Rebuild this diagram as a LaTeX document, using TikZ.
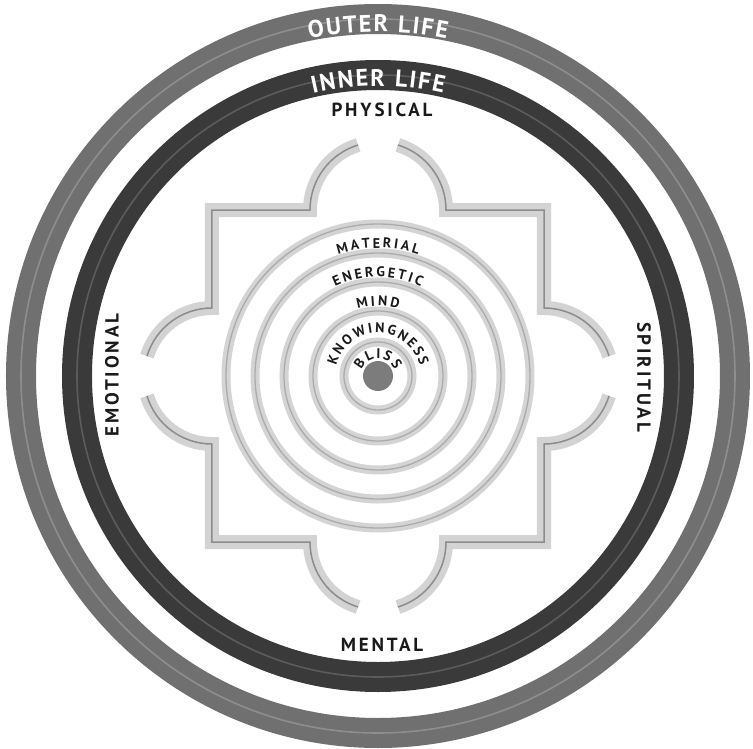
\documentclass[tikz,border=0pt]{standalone}
\usepackage{fontspec}
\usetikzlibrary{decorations.text}
\newfontfamily\plainfam{PT Sans}
\newfontfamily\sidefam[LetterSpace=15.0]{PT Sans}
\newcommand\fRing{\plainfam\bfseries\fontsize{24}{24}\selectfont}
\newcommand\fSide{\sidefam\bfseries\fontsize{19}{19}\selectfont}
\newcommand\fIn{\plainfam\bfseries\fontsize{14}{14}\selectfont}
\definecolor{outerC}{HTML}{707070}
\definecolor{outerS}{HTML}{8E8E8E}
\definecolor{innerC}{HTML}{3A3A3A}
\definecolor{innerS}{HTML}{5C5C5C}
\definecolor{bandC}{HTML}{D3D3D3}
\definecolor{lineC}{HTML}{8C8C8C}
\definecolor{ringC}{HTML}{D4D4D4}
\definecolor{ringL}{HTML}{ABABAB}
\definecolor{dotC}{HTML}{7C7C7C}
\definecolor{txtC}{HTML}{1A1A1A}
\tikzset{
  bigring/.style={draw=#1, line width=30pt},
  stripe/.style={draw=#1, line width=1.6pt},
  gateband/.style={draw=bandC, line width=14pt, line join=miter},
  gateline/.style={draw=lineC, line width=1.5pt, line join=miter},
  ringband/.style={draw=ringC, line width=9pt},
  ringline/.style={draw=ringL, line width=1.3pt},
  sidelabel/.style={text=txtC, font=\fSide, inner sep=0pt},
  curvetxt/.style n args={4}{decorate, decoration={text effects along path,
    text={#4}, text align=center,
    text effects/.cd, text along path,
    characters={text=#1, font=#3, anchor=base, inner xsep=#2, inner ysep=0pt},
    character widths={font=#3, inner xsep=#2, inner ysep=0pt}}},
}
\begin{document}
\begin{tikzpicture}[x=1pt,y=1pt]
\useasboundingbox (-378,-372) rectangle (375,376);
\fill[white] (-378,-372) rectangle (375,376);
% outer and inner life rings
\draw[bigring=outerC] (0,0) circle[radius=357];
\draw[stripe=outerS] (0,0) circle[radius=357];
\draw[bigring=innerC] (0,0) circle[radius=301];
\draw[stripe=innerS] (0,0) circle[radius=301];
\path[curvetxt={white}{0.9pt}{\fRing}{OUTER LIFE}] (130:344) arc[start angle=130, end angle=50, radius=344];
\path[curvetxt={white}{0.9pt}{\fRing}{INNER LIFE}] (135:290) arc[start angle=135, end angle=45, radius=290];
% square with four gates
\foreach \st in {gateband, gateline}{
  \foreach \a in {0,90,180,270}{
    \draw[\st, rotate=\a] (0,166) ++(107:68) arc[start angle=107, end angle=180, radius=68]
      -- (-166,166) -- (-166,68) arc[start angle=90, end angle=163, radius=68];
  }
}
% concentric rings
\foreach \r in {152,123,94,65,34}{
  \draw[ringband] (0,0) circle[radius=\r];
  \draw[ringline] (0,0) circle[radius=\r];
}
\node[circle, fill=dotC, minimum size=30pt, inner sep=0pt] (core) at (0,0) {};
% curved inner labels
\path[curvetxt={txtC}{1.3pt}{\fIn}{MATERIAL}] (160:128) arc[start angle=160, end angle=20, radius=128];
\path[curvetxt={txtC}{1.3pt}{\fIn}{ENERGETIC}] (170:99) arc[start angle=170, end angle=10, radius=99];
\path[curvetxt={txtC}{1.3pt}{\fIn}{MIND}] (170:70) arc[start angle=170, end angle=10, radius=70];
\path[curvetxt={txtC}{1.1pt}{\fIn}{KNOWINGNESS}] (215:43) arc[start angle=215, end angle=-35, radius=43];
\path[curvetxt={txtC}{1.0pt}{\fIn}{BLISS}] (235:17.5) arc[start angle=235, end angle=-55, radius=17.5];
% side labels
\node[sidelabel] (physical) at (4,266) {PHYSICAL};
\node[sidelabel] (mental) at (4,-269) {MENTAL};
\node[sidelabel, rotate=90] (emotional) at (-266,1) {EMOTIONAL};
\node[sidelabel, rotate=-90] (spiritual) at (266,-1) {SPIRITUAL};
\end{tikzpicture}
\end{document}
